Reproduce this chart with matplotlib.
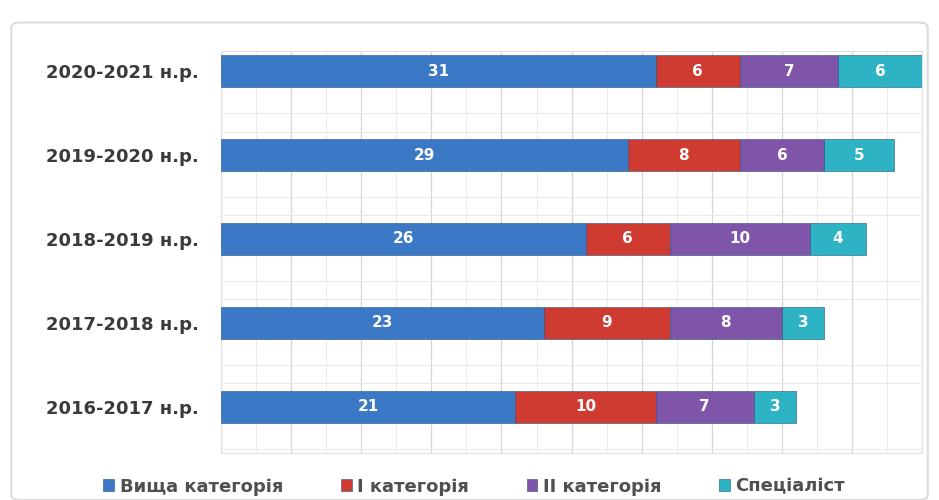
import matplotlib
matplotlib.use("Agg")
import matplotlib.pyplot as plt
from matplotlib.patches import FancyBboxPatch
from matplotlib.ticker import MultipleLocator, FixedLocator

years = ["2016-2017 н.р.", "2017-2018 н.р.", "2018-2019 н.р.", "2019-2020 н.р.", "2020-2021 н.р."]
series_names = ["Вища категорія", "І категорія", "ІІ категорія", "Спеціаліст"]
vyshcha = [21, 23, 26, 29, 31]
first_cat = [10, 9, 6, 8, 6]
second_cat = [7, 8, 10, 6, 7]
specialist = [3, 3, 4, 5, 6]
colors = ["#3b78c6", "#cf3a31", "#7f55aa", "#2eb3c4"]

fig = plt.figure(figsize=(9.39, 5.0), dpi=100)
fig.patch.set_facecolor("white")
frame = FancyBboxPatch((0.012, 0.0), 0.976, 0.955, boxstyle="round,pad=0,rounding_size=0.01",
                       transform=fig.transFigure, facecolor="white", edgecolor="#dcdcdc", lw=1.5,
                       zorder=-5)
fig.patches.append(frame)

ax = fig.add_axes([0.2354, 0.094, 0.982 - 0.2354, 0.898 - 0.094])
ax.set_facecolor("white")
y = list(range(len(years)))
left = [0] * len(years)
for vals, name, c in zip([vyshcha, first_cat, second_cat, specialist], series_names, colors):
    bars = ax.barh(y, vals, left=left, height=0.38, color=c, edgecolor="#2a4f80", linewidth=0.4,
                   label=name, zorder=3)
    for b, v in zip(bars, vals):
        ax.text(b.get_x() + b.get_width() / 2, b.get_y() + b.get_height() / 2, str(v),
                ha="center", va="center", color="white", fontsize=11, fontweight="bold", zorder=4)
    left = [l + v for l, v in zip(left, vals)]

ax.set_xlim(0, 50)
ax.set_ylim(-0.55, 4.24)
ax.xaxis.set_major_locator(MultipleLocator(5))
ax.xaxis.set_minor_locator(MultipleLocator(2.5))
ax.yaxis.set_minor_locator(FixedLocator([k + 0.5 for k in range(-1, 5)] + [k + 0.28 for k in range(-1, 5)]))
ax.grid(which="major", axis="x", color="#d6d6d6", lw=0.9, zorder=0)
ax.grid(which="minor", axis="x", color="#eeeaea", lw=0.7, zorder=0)
ax.grid(which="minor", axis="y", color="#ece8e8", lw=0.7, zorder=0)
ax.set_yticks(y)
ax.set_yticklabels(years, fontsize=13, fontweight="bold", color="#3a3a3a")
ax.tick_params(axis="y", length=0, pad=16)
ax.tick_params(axis="x", which="both", length=0, labelbottom=False)
ax.tick_params(axis="y", which="minor", length=0)
for s in ax.spines.values():
    s.set_color("#e0e0e0")
    s.set_linewidth(0.8)

leg = fig.legend(loc="center", bbox_to_anchor=(0.505, 0.027), ncol=4, frameon=False,
                 fontsize=13, handlelength=0.6, handleheight=0.6, columnspacing=3.2, handletextpad=0.3)
for t in leg.get_texts():
    t.set_fontweight("bold")
    t.set_color("#505050")

fig.savefig("out.png", dpi=100, facecolor="white")
